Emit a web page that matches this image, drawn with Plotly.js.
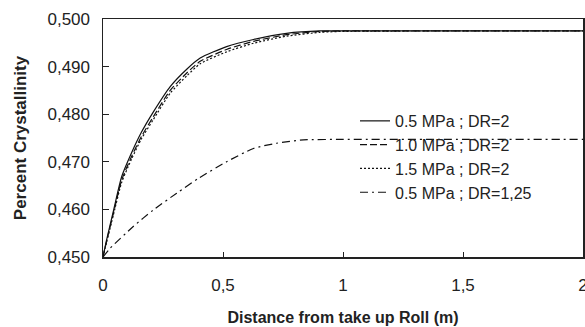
<!DOCTYPE html>
<html>
<head>
<meta charset="utf-8">
<script src="https://cdn.plot.ly/plotly-3.0.1.min.js"></script>
<style>html,body{margin:0;padding:0;background:#fff;}#chart{width:585px;height:327px;}</style>
</head>
<body>
<div id="chart"></div>
<script>
// Distance from take up roll (m)
const xMain = [0, 0.015, 0.044, 0.078, 0.12, 0.16, 0.21, 0.28, 0.35, 0.405, 0.515, 0.627, 0.765, 0.905, 1.0, 1.5, 2.0];
// Percent crystallinity, DR=2
const p05_dr2 = [0.4500, 0.4536, 0.4598, 0.4669, 0.4720, 0.4762, 0.4805, 0.4858, 0.4895, 0.4918, 0.4942, 0.4957, 0.4970, 0.4975, 0.4975, 0.4975, 0.4975];
const p10_dr2 = [0.4500, 0.4533, 0.4593, 0.4662, 0.4712, 0.4753, 0.4795, 0.4850, 0.4887, 0.4911, 0.4936, 0.4953, 0.4967, 0.4974, 0.4975, 0.4975, 0.4975];
const p15_dr2 = [0.4500, 0.4531, 0.4590, 0.4657, 0.4707, 0.4748, 0.4789, 0.4844, 0.4881, 0.4906, 0.4931, 0.4949, 0.4964, 0.4972, 0.4974, 0.4975, 0.4975];
// DR=1,25
const xLow = [0, 0.029, 0.126, 0.21, 0.307, 0.397, 0.515, 0.627, 0.723, 0.835, 1.0, 1.5, 2.0];
const p05_dr125 = [0.4500, 0.4518, 0.4564, 0.4599, 0.4634, 0.4665, 0.4700, 0.4728, 0.4739, 0.4746, 0.4747, 0.4747, 0.4747];
const seriesNames = ['0.5 MPa ; DR=2', '1.0 MPa ; DR=2', '1.5 MPa ; DR=2', '0.5 MPa ; DR=1,25'];
const yRange = [0.45, 0.5];

const FONT = 'Liberation Sans, Arial, Helvetica, sans-serif';
const lineColor = '#111';
const traces = [
  {x: xMain, y: p05_dr2, name: seriesNames[0], dash: 'solid'},
  {x: xMain, y: p10_dr2, name: seriesNames[1], dash: '7px,3px'},
  {x: xMain, y: p15_dr2, name: seriesNames[2], dash: '2px,2px'},
  {x: xLow, y: p05_dr125, name: seriesNames[3], dash: '8px,4px,2px,4px'}
].map((t) => ({
  x: t.x, y: t.y, name: t.name, type: 'scatter', mode: 'lines',
  line: {color: lineColor, width: 1.2, dash: t.dash, shape: 'spline', smoothing: 0.6}
}));
// invisible companion trace so the tick-label axis (y2) is registered
traces.push({x: xLow, y: p05_dr125, yaxis: 'y2', type: 'scatter', mode: 'lines',
  line: {color: 'rgba(0,0,0,0)', width: 0}, showlegend: false, hoverinfo: 'skip'});

const L = 90, R = 2, W = 585;
const plotW = W - L - R;
const axisStart = (103 - L) / plotW;

const layout = {
  width: 585, height: 327,
  margin: {l: L, r: R, t: 19, b: 70},
  paper_bgcolor: '#fff', plot_bgcolor: 'rgba(0,0,0,0)',
  separators: ', ',
  font: {family: FONT, size: 17, color: '#222'},
  showlegend: true,
  legend: {
    x: (0.525 * 480 + 13) / plotW, y: 0.643, xanchor: 'left', yanchor: 'top',
    bgcolor: 'rgba(0,0,0,0)', borderwidth: 0,
    traceorder: 'normal',
    font: {family: FONT, size: 16, color: '#222'}
  },
  xaxis: {
    domain: [axisStart, 1],
    range: [0, 2], dtick: 0.5, tick0: 0,
    showgrid: false, zeroline: false,
    showline: true, mirror: true, linecolor: '#222', linewidth: 1.5,
    ticks: 'inside', ticklen: 5, tickcolor: '#222',
    ticklabelstandoff: 12, ticklabeloverflow: 'allow',
    tickfont: {family: FONT, size: 17, color: '#222'},
    title: {text: 'Distance from take up Roll (m)', standoff: 18,
      font: {family: FONT, size: 16, color: '#222', weight: 'bold'}}
  },
  yaxis: {
    range: yRange, dtick: 0.01, tick0: 0.45,
    showticklabels: false,
    showgrid: false, zeroline: false,
    showline: true, mirror: true, linecolor: '#222', linewidth: 1.5,
    ticks: 'inside', ticklen: 6, tickcolor: '#222'
  },
  yaxis2: {
    overlaying: 'y', anchor: 'free', position: 0, side: 'left',
    range: yRange, dtick: 0.01, tick0: 0.45, tickformat: '.3f',
    showgrid: false, zeroline: false, showline: false, ticks: '',
    tickfont: {family: FONT, size: 17, color: '#222'},
    title: {text: 'Percent Crystallinity', standoff: 15,
      font: {family: FONT, size: 17, color: '#222', weight: 'bold'}}
  }
};

Plotly.newPlot('chart', traces, layout, {staticPlot: true, displayModeBar: false});
</script>
</body>
</html>
